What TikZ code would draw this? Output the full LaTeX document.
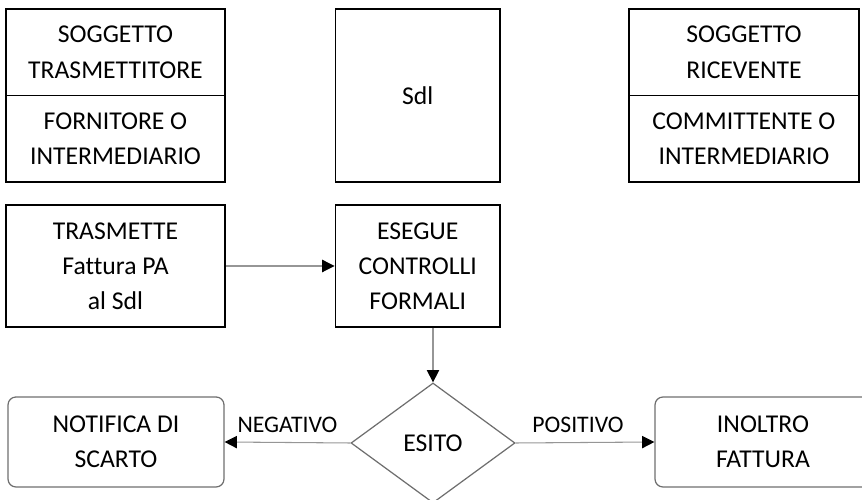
\documentclass[tikz,border=0pt]{standalone}
\usepackage{fontspec}
\setmainfont{Carlito}[Ligatures=NoCommon]
\usetikzlibrary{shapes,arrows.meta}

\definecolor{lightline}{RGB}{150,150,150}
\definecolor{softline}{RGB}{110,110,110}

\begin{document}
\begin{tikzpicture}[every node/.style={inner sep=0pt,align=center,font=\fontsize{14.6}{20}\selectfont},
  box/.style={draw,line width=1.1pt},
  endbox/.style={draw=softline,line width=0.7pt,rounded corners=4.5pt,minimum width=4.32cm,minimum height=1.8cm},
  esitolabel/.style={above=0.18cm,font=\fontsize{13.5}{20}\selectfont},
  conn/.style={draw=lightline,line width=0.6pt,-{Triangle[length=7pt,width=7pt,color=black]}}]
\useasboundingbox (0,0) rectangle (17.24,10);
% soggetti in alto
\node[box,minimum width=4.38cm,minimum height=1.73cm](txsup) at (2.31,8.955){SOGGETTO\\TRASMETTITORE} ;
\node[box,minimum width=4.38cm,minimum height=1.73cm](txinf) at (2.31,7.225){FORNITORE O\\INTERMEDIARIO} ;
\node[box,minimum width=3.29cm,minimum height=3.46cm](sdi) at (8.355,8.09){Sdl} ;
\node[box,minimum width=4.6cm,minimum height=1.73cm](rxsup) at (14.88,8.955){SOGGETTO\\RICEVENTE} ;
\node[box,minimum width=4.6cm,minimum height=1.73cm](rxinf) at (14.88,7.225){COMMITTENTE O\\INTERMEDIARIO} ;
% flusso
\node[box,minimum width=4.38cm,minimum height=2.44cm](trasm) at (2.31,4.68){TRASMETTE\\Fattura PA\\al Sdl} ;
\node[box,minimum width=3.29cm,minimum height=2.44cm](contr) at (8.355,4.68){ESEGUE\\CONTROLLI\\FORMALI} ;
\node[diamond,draw=softline,line width=0.7pt,minimum width=3.28cm,minimum height=2.4cm](esito) at (8.66,1.14){ESITO} ;
\node[endbox](scarto) at (2.32,1.16){NOTIFICA DI\\SCARTO} ;
\node[endbox](inoltro) at (15.26,1.16){INOLTRO\\FATTURA} ;
\draw[conn](trasm) -- (contr);
\draw[conn](esito.north |- contr.south) -- (esito.north);
\draw[conn](esito.west) -- node[esitolabel]{NEGATIVO} (scarto.east);
\draw[conn](esito.east) -- node[esitolabel,xshift=-0.14cm]{POSITIVO} (inoltro.west);
\end{tikzpicture}
\end{document}
